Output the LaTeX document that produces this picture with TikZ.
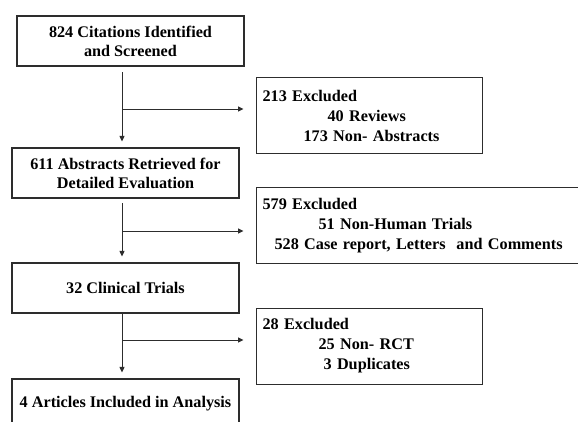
\documentclass[tikz,border=0pt]{standalone}
\usepackage{fontspec}
\setmainfont{Liberation Serif}
\usetikzlibrary{arrows.meta,positioning}
\definecolor{ink}{RGB}{45,45,45}

\tikzset{
  stage/.style={draw=ink,line width=1.1pt,minimum width=227pt,minimum height=50pt,
    inner sep=0pt,align=center,font=\bfseries\fontsize{16.2}{19}\selectfont},
  excl/.style={draw=ink,line width=1.1pt,minimum height=76pt,inner xsep=6pt,inner ysep=0pt,
    align=left,font=\bfseries\fontsize{16.2}{20}\selectfont},
  flow/.style={draw=ink,line width=0.9pt,-{Triangle[length=5.5pt,width=5pt]}},
}

\begin{document}
\begin{tikzpicture}[x=1pt,y=-1pt]
\clip (0,0) rectangle (578,421);
\fill[white] (0,0) rectangle (578,421);

% main column
\node[stage] (cit) at (130.5,41) {824 Citations Identified\\and Screened};
\node[stage] (abs) at (125.5,173) {611 Abstracts Retrieved for\\Detailed Evaluation};
\node[stage] (clin) at (125.5,288) {32 Clinical Trials};
\node[stage] (incl) at (125.5,404) {4 Articles Included in Analysis};

% exclusion boxes
\node[excl,text width=214pt,anchor=north west] (ex1) at (256,77)
  {213 Excluded\\\hspace*{65pt}40 Reviews\\\hspace*{41pt}173 Non- Abstracts};
\node[excl,text width=340pt,anchor=north west] (ex2) at (256,187)
  {579 Excluded\\\hspace*{56pt}51 Non-Human Trials\\\hspace*{12pt}528 Case report, Letters\ \ and Comments};
\node[excl,text width=214pt,anchor=north west] (ex3) at (256,307.5)
  {28 Excluded\\\hspace*{56pt}25 Non- RCT\\\hspace*{61pt}3 Duplicates};

% spine points
\coordinate (s1) at (122,72);
\coordinate (b1) at (122,109);
\coordinate (s2) at (122,203);
\coordinate (b2) at (122,231);
\coordinate (s3) at (122,313);
\coordinate (b3) at (122,340);

\draw[flow,shorten >=6pt] (s1) -- (s1 |- abs.north);
\draw[flow,shorten >=12.5pt] (b1) -- (b1 -| ex1.west);
\draw[flow,shorten >=6pt] (s2) -- (s2 |- clin.north);
\draw[flow,shorten >=12.5pt] (b2) -- (b2 -| ex2.west);
\draw[flow,shorten >=6pt] (s3) -- (s3 |- incl.north);
\draw[flow,shorten >=12.5pt] (b3) -- (b3 -| ex3.west);

\end{tikzpicture}
\end{document}
